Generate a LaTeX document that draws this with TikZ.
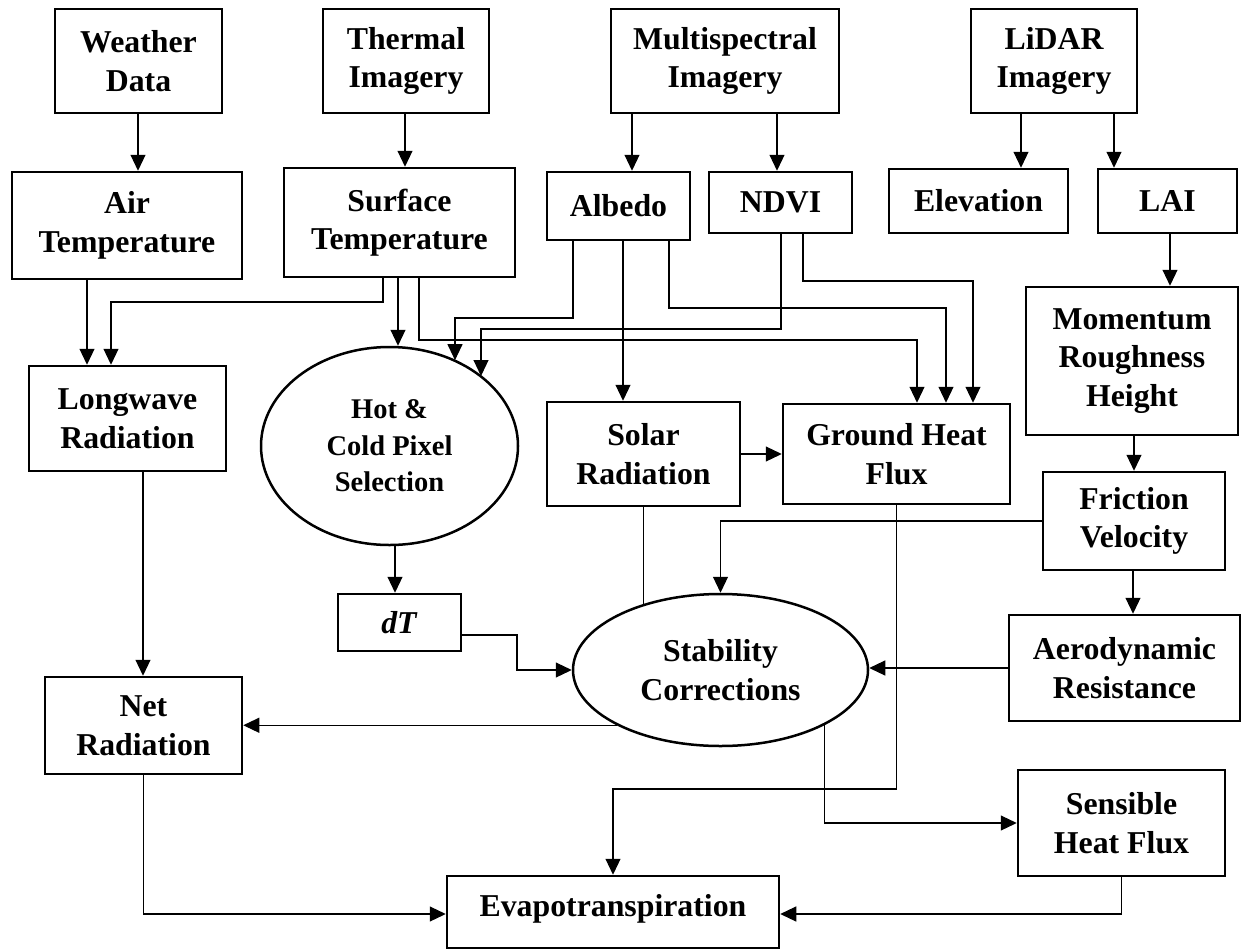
\documentclass[tikz,border=0pt]{standalone}
\usepackage{fontspec}
\setmainfont{Liberation Serif}
\usetikzlibrary{arrows.meta,shapes.geometric}
\begin{document}
\begin{tikzpicture}[x=1pt,y=-1pt,
  box/.style={draw,line width=2.5pt,rectangle,inner sep=0pt,align=center,
    font=\bfseries\fontsize{31.8}{38.5}\selectfont},
  oval/.style={draw,line width=2.5pt,ellipse,inner sep=0pt,align=center,
    font=\bfseries\fontsize{31.8}{38.5}\selectfont},
  txt/.style={inner sep=0pt,font=\bfseries\fontsize{31.8}{38.5}\selectfont},
  arr/.style={line width=1.1pt,-{Triangle[length=16pt,width=15pt]}},
  ln/.style={line width=1.1pt},
]
\useasboundingbox[fill=white] (0,0) rectangle (1241,950);

% top row
\node[box,minimum width=167pt,minimum height=104pt] (weather) at (138.5,61) {Weather\\Data};
\node[box,minimum width=166pt,minimum height=104pt] (thermal) at (406,61) {Thermal\\Imagery};
\node[box,minimum width=228pt,minimum height=104pt] (multi) at (725,61) {Multispectral\\Imagery};
\node[box,minimum width=166pt,minimum height=104pt] (lidar) at (1054,61) {LiDAR\\Imagery};

% second row
\node[box,minimum width=230pt,minimum height=107pt] (air) at (127,225.5) {Air\\Temperature};
\node[box,minimum width=231pt,minimum height=109pt] (surface) at (399.5,222.5) {Surface\\Temperature};
\node[box,minimum width=143pt,minimum height=68pt] (albedo) at (618.5,206) {Albedo};
\node[box,minimum width=143pt,minimum height=61pt] (ndvi) at (780.5,202.5) {NDVI};
\node[box,minimum width=179pt,minimum height=64pt] (elev) at (978.5,201) {Elevation};
\node[box,minimum width=139pt,minimum height=64pt] (lai) at (1167.5,201) {LAI};

% middle
\node[box,minimum width=212pt,minimum height=148pt] (momentum) at (1132,361) {Momentum\\Roughness\\Height};
\node[box,minimum width=197pt,minimum height=105pt] (longwave) at (127.5,418.5) {Longwave\\Radiation};
\node[oval,minimum width=257pt,minimum height=198pt,
  font=\bfseries\fontsize{28.5}{36.5}\selectfont] (hot) at (389.5,446) {Hot \&\\Cold Pixel\\Selection};
\node[box,minimum width=193pt,minimum height=104pt] (solar) at (643.5,454) {Solar\\Radiation};
\node[box,minimum width=227pt,minimum height=100pt] (ground) at (896.5,454) {Ground Heat\\Flux};
\node[box,minimum width=182pt,minimum height=98pt] (friction) at (1134,521) {Friction\\Velocity};
\node[box,minimum width=123pt,minimum height=57pt] (dT) at (399.5,622.5) {\textit{dT}};
\node[oval,minimum width=295pt,minimum height=152pt] (stab) at (720.5,670) {Stability\\Corrections};
\node[box,minimum width=231pt,minimum height=106pt] (aero) at (1124.5,668) {Aerodynamic\\Resistance};
\node[box,minimum width=197pt,minimum height=97pt] (net) at (143.5,725.5) {Net\\Radiation};
\node[box,minimum width=207pt,minimum height=106pt] (sensible) at (1121.5,823) {Sensible\\Heat Flux};
\node[box,minimum width=332pt,minimum height=72pt] (evapo) at (613,912) {};
\node[txt,anchor=base] (evapotext) at (613,916) {Evapotranspiration};

% connectors
\draw[arr] (weather.south -| 138,0) -- (air.north -| 138,0);
\draw[arr] (thermal.south -| 405,0) -- (surface.north -| 405,0);
\draw[arr] (multi.south -| 632,0) -- (albedo.north -| 632,0);
\draw[arr] (multi.south -| 777,0) -- (ndvi.north -| 777,0);
\draw[arr] (lidar.south -| 1021,0) -- (elev.north -| 1021,0);
\draw[arr] (lidar.south -| 1114,0) -- (lai.north -| 1114,0);

\draw[arr] (air.south -| 87,0) -- (longwave.north -| 87,0);
\draw[arr] (surface.south -| 383,0) |- (111,302) -- (longwave.north -| 111,0);
\draw[arr] (surface.south -| 398,0) -- (hot.north -| 398,0);
\draw[arr] (surface.south -| 419,0) |- (917,340) -- (ground.north -| 917,0);

\draw[arr] (albedo.south -| 573,0) |- (455,318) -- (hot.52 -| 455,0);
\draw[arr] (albedo.south -| 623,0) -- (solar.north -| 623,0);
\draw[arr] (albedo.south -| 669,0) |- (946,308) -- (ground.north -| 946,0);
\draw[arr] (ndvi.south -| 781,0) |- (481,329) -- (hot.37 -| 481,0);
\draw[arr] (ndvi.south -| 803,0) |- (973,281) -- (ground.north -| 973,0);

\draw[arr] (lai.south -| 1170,0) -- (momentum.north -| 1170,0);
\draw[arr] (momentum.south -| 1134,0) -- (friction.north -| 1134,0);
\draw[arr] (friction.south -| 1133,0) -- (aero.north -| 1133,0);

\draw[arr] (solar.east) -- (ground.west |- solar.east);
\draw[ln] (solar.south) -- (solar.south |- stab.140);
\draw[arr] (friction.west) -| (stab.north);
\draw[arr] (hot.south -| 395,0) -- (dT.north -| 395,0);
\draw[arr] (dT.east |- 0,635) -- (517,635) |- (stab.west);
\draw[arr] (aero.west) -- (stab.east |- aero.west);

\draw[arr] (longwave.south -| 143,0) -- (net.north -| 143,0);
\draw[arr] (stab.208) -- (net.east |- stab.208);
\draw[arr] (stab.332) |- (sensible.west);
\draw[arr] (ground.south) -- (ground.south |- 0,789) -| (evapo.north);
\draw[arr] (net.south) |- (evapo.west |- 0,914);
\draw[arr] (sensible.south) |- (evapo.east |- 0,914);
\end{tikzpicture}
\end{document}
